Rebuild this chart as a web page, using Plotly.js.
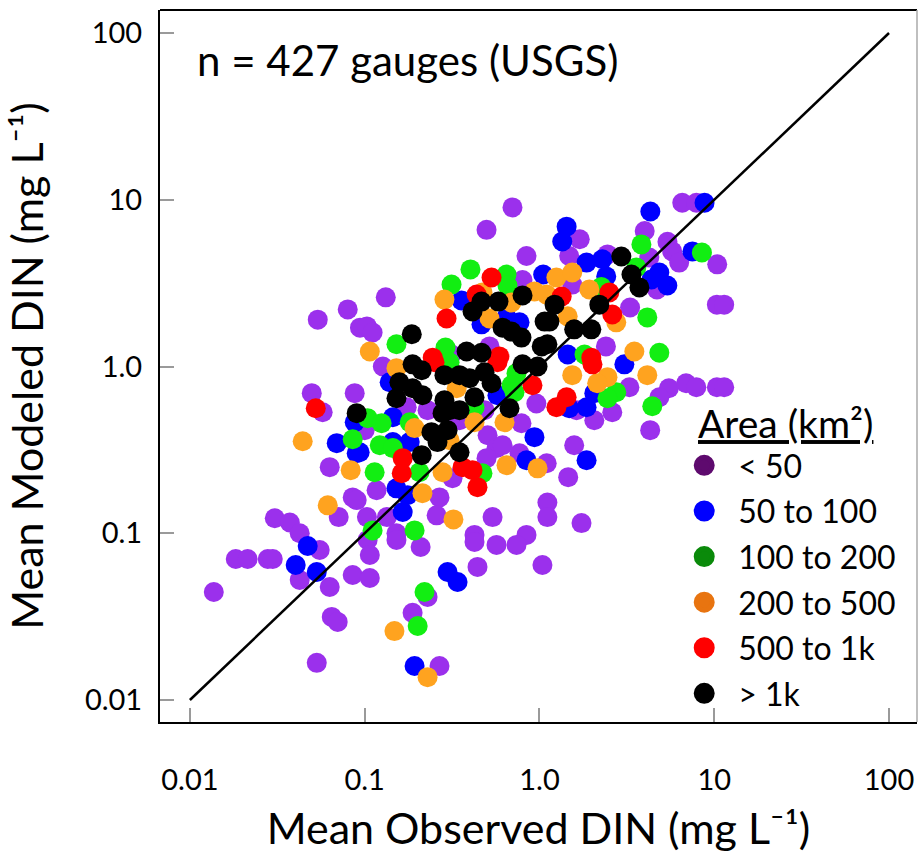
<!DOCTYPE html>
<html><head><meta charset="utf-8">
<script src="https://cdn.plot.ly/plotly-3.0.1.min.js"></script>
<style>html,body{margin:0;padding:0;background:#fff}</style>
</head><body><div id="chart" style="width:918px;height:857px"></div>
<script>
// Category labels (drainage area, km2)
const areaLabels = ['< 50', '50 to 100', '100 to 200', '200 to 500', '500 to 1k', '> 1k'];

// Area < 50 km2
const lt50_obs = [0.0137,0.0183,0.0214,0.0279,0.0298,0.0425,0.0631,0.0553,0.0854,0.0648,0.0701,0.0532,0.0306,0.0373,0.0425,0.0498,0.0575,0.0631,0.0854,0.090,0.071,0.0877,0.0539,0.080,0.094,0.701,0.498,0.843,0.80,0.132,0.103,0.111,0.518,6.56,7.9,4.0,1.7,5.4,5.75,6.3,10.4,1.48,2.45,4.25,4.7,1.54,3.3,2.4,10.35,11.4,0.127,0.96,0.485,0.229,0.174,0.789,0.505,0.1,0.568,0.615,0.769,1.1,0.318,0.498,0.117,0.268,0.258,0.539,0.103,0.134,0.152,1.11,1.11,0.425,0.843,0.104,0.152,0.209,0.425,0.568,0.739,0.107,0.107,0.442,1.04,0.229,0.188,0.268,3.27,1.63,2.61,2.06,5.5,6.9,7.9,10.35,11.4,4.85,4.3,1.46,1.74,0.314,1.58,0.349];
const lt50_mod = [0.0444,0.0701,0.0701,0.0701,0.0701,0.0525,0.0476,0.0794,0.0562,0.0315,0.0294,0.0167,0.123,0.116,0.100,0.692,0.532,0.249,0.164,0.158,0.125,0.692,1.91,2.2,1.71,9.0,6.6,4.6,3.3,2.6,1.74,1.6,1.32,9.6,9.6,6.5,5.8,5.6,4.9,4.2,4.1,4.6,4.7,4.5,2.9,3.1,2.26,1.32,2.35,2.35,1.0,0.60,0.547,0.547,0.57,0.457,0.387,0.415,0.324,0.337,0.302,0.263,0.214,0.282,0.181,0.164,0.128,0.125,0.125,0.125,0.1,0.153,0.125,0.0977,0.0977,0.0912,0.0912,0.0827,0.0887,0.0851,0.0851,0.0741,0.0539,0.0628,0.0645,0.0415,0.0333,0.016,0.751,0.547,0.532,0.476,0.741,0.794,0.751,0.751,0.751,0.654,0.415,0.217,0.115,1.18,0.337,0.476];

// Area 50 to 100 km2
const a50_100_obs = [0.0403,0.0472,0.0532,0.0692,0.090,0.0877,1.05,0.358,0.466,0.648,0.769,8.8,4.31,1.43,1.35,7.5,1.86,2.29,2.41,4.85,4.37,5.39,1.45,0.139,0.575,0.145,0.936,0.0936,0.145,0.181,0.843,0.152,0.176,0.165,0.298,0.34,0.193,3.06,2.06,1.86,1.48,1.86];
const a50_100_mod = [0.0645,0.0839,0.0586,0.347,0.302,0.463,3.56,2.49,1.79,1.97,1.84,9.6,8.5,6.9,5.62,4.9,4.2,4.4,3.47,3.66,3.33,3.06,1.18,0.805,0.672,0.496,0.377,0.306,0.352,0.352,0.274,0.186,0.169,0.134,0.0586,0.051,0.016,1.03,0.692,0.57,0.562,0.274];

// Area 100 to 200 km2
const a100_200_obs = [0.0854,0.403,0.648,0.656,0.314,0.152,0.29,3.83,8.5,3.58,2.26,4.14,4.85,1.81,0.306,0.739,0.692,0.72,0.425,0.104,0.125,0.181,0.122,0.145,0.114,0.206,0.472,0.111,0.193,0.22,0.201,2.75,2.45,4.42];
const a100_200_mod = [0.366,3.82,3.56,3.06,3.1,1.36,1.3,5.4,4.83,3.93,3.0,1.97,1.21,1.18,1.06,0.912,0.772,0.701,0.57,0.49,0.457,0.463,0.337,0.324,0.232,0.232,0.229,0.104,0.104,0.0444,0.0278,0.701,0.645,0.578];

// Area 200 to 500 km2
const a200_500_obs = [0.0442,0.0832,0.0615,1.25,0.286,0.472,0.692,0.936,1.1,0.518,0.107,1.54,1.93,1.45,2.75,3.49,0.152,0.336,0.193,0.425,0.631,0.306,0.648,0.975,0.279,0.214,0.322,0.148,0.229,1.54,2.45,2.14,4.14];
const a200_500_mod = [0.356,0.239,0.147,3.42,2.52,2.78,2.42,2.82,2.7,1.94,1.23,3.66,2.9,2.0,1.84,1.23,0.977,0.741,0.427,0.463,0.463,0.361,0.256,0.245,0.232,0.174,0.121,0.0259,0.0137,0.887,0.863,0.794,0.887];

// Area 500 to 1k km2
const a500_1k_obs = [0.0525,0.532,0.437,0.294,0.245,0.59,1.34,2.51,2.61,1.98,0.251,0.575,0.912,1.25,0.165,0.163,0.363,0.414,0.442,2.01,1.43];
const a500_1k_mod = [0.562,3.42,2.7,1.94,1.13,1.15,2.63,2.78,2.05,1.13,1.06,1.06,0.772,0.57,0.282,0.229,0.249,0.239,0.189,1.03,0.654];

// Area > 1k km2
const gt1k_obs = [0.090,0.466,0.414,0.583,0.80,1.22,0.615,0.692,0.789,1.07,1.14,1.03,1.11,0.186,0.383,0.466,2.94,3.36,3.73,2.2,1.58,1.98,0.188,0.212,0.286,0.349,0.398,0.485,0.532,0.80,0.975,0.158,0.188,0.214,0.152,0.425,0.286,0.306,0.349,0.279,0.674,0.241,0.261,0.298,0.212,0.349];
const gt1k_mod = [0.525,2.45,2.14,2.45,2.67,2.35,1.71,1.62,1.49,1.86,1.86,1.32,1.36,1.56,1.23,1.21,4.57,3.56,2.98,2.35,1.67,1.67,1.03,0.95,0.887,0.887,0.851,0.924,0.794,1.03,1.0,0.805,0.741,0.672,0.645,0.654,0.628,0.547,0.547,0.525,0.562,0.404,0.352,0.415,0.294,0.306];

// 1:1 line
const oneToOne = [0.01, 100];

// Ticks
const tickVals = [0.01, 0.1, 1, 10, 100];
const tickText = ['0.01', '0.1', '1.0', '10', '100'];

const FONT = 'Lato, "Open Sans", "DejaVu Sans", sans-serif';
const pointColors = ['#9B30EC', '#0000FF', '#12EE12', '#FFA31F', '#FF0000', '#000000'];
const legendColors = ['#5E0A6E', '#0000FF', '#0A8A0A', '#E87410', '#FF0000', '#000000'];
const series = [
  [lt50_obs, lt50_mod], [a50_100_obs, a50_100_mod], [a100_200_obs, a100_200_mod],
  [a200_500_obs, a200_500_mod], [a500_1k_obs, a500_1k_mod], [gt1k_obs, gt1k_mod]
];

const traces = [];
series.forEach((s, i) => {
  traces.push({
    type: 'scatter', mode: 'markers', x: s[0], y: s[1], name: areaLabels[i],
    marker: {size: 20, color: pointColors[i], line: {width: 0}},
    showlegend: false, hoverinfo: 'x+y'
  });
});
series.forEach((s, i) => {
  traces.push({
    type: 'scatter', mode: 'markers', x: [null], y: [null], name: areaLabels[i],
    legendgroup: 'g' + i,
    marker: {size: 16, color: legendColors[i], line: {width: 5, color: legendColors[i]}},
    showlegend: true
  });
});
traces.push({
  type: 'scatter', mode: 'lines', x: oneToOne, y: oneToOne,
  line: {color: '#000', width: 2.5}, showlegend: false, hoverinfo: 'skip'
});

const axisBase = {
  type: 'log', showgrid: false, zeroline: false, showline: true,
  linecolor: '#000', linewidth: 2, ticks: 'inside', ticklen: 14, tickwidth: 1.5,
  tickcolor: '#9a9a9a', tickmode: 'array', tickvals: tickVals, ticktext: tickText,
  tickfont: {family: FONT, size: 29, color: '#000'}, automargin: false
};

const layout = {
  width: 918, height: 857,
  margin: {l: 160, r: 1, t: 10, b: 135},
  paper_bgcolor: '#fff', plot_bgcolor: '#fff',
  font: {family: FONT, color: '#000'},
  xaxis: Object.assign({}, axisBase, {
    range: [-2.171, 2.16], ticklabelstandoff: 31,
    title: {text: 'Mean Observed DIN (mg L\u207B\u00B9)', font: {family: FONT, size: 43}, standoff: 19}
  }),
  yaxis: Object.assign({}, axisBase, {
    range: [-2.132, 2.138], ticklabelstandoff: 10,
    title: {text: 'Mean Modeled DIN (mg L\u207B\u00B9)', font: {family: FONT, size: 43}, standoff: 28}
  }),
  showlegend: true,
  legend: {
    x: 0.674, xanchor: 'left', y: 0.470, yanchor: 'top',
    bgcolor: 'rgba(0,0,0,0)', borderwidth: 0,
    font: {family: FONT, size: 32, color: '#000'},
    title: {text: '<u>Area (km\u00B2)</u>', side: 'top center', font: {family: FONT, size: 39, color: '#000'}},
    traceorder: 'grouped', tracegroupgap: 1, itemsizing: 'trace', itemwidth: 58
  },
  shapes: [
    {type: 'line', xref: 'paper', yref: 'paper', x0: 0, x1: 1, y0: 1, y1: 1, line: {color: '#000', width: 2}},
    {type: 'line', xref: 'paper', yref: 'paper', x0: 1, x1: 1, y0: 0, y1: 1, line: {color: '#aaa', width: 1.5}}
  ],
  annotations: [{
    text: 'n = 427 gauges (USGS)', xref: 'paper', yref: 'paper', x: 0.046, y: 0.93,
    xanchor: 'left', yanchor: 'middle', showarrow: false,
    font: {family: FONT, size: 42, color: '#000'}
  }]
};

Plotly.newPlot('chart', traces, layout, {displayModeBar: false, responsive: false});
</script></body></html>
